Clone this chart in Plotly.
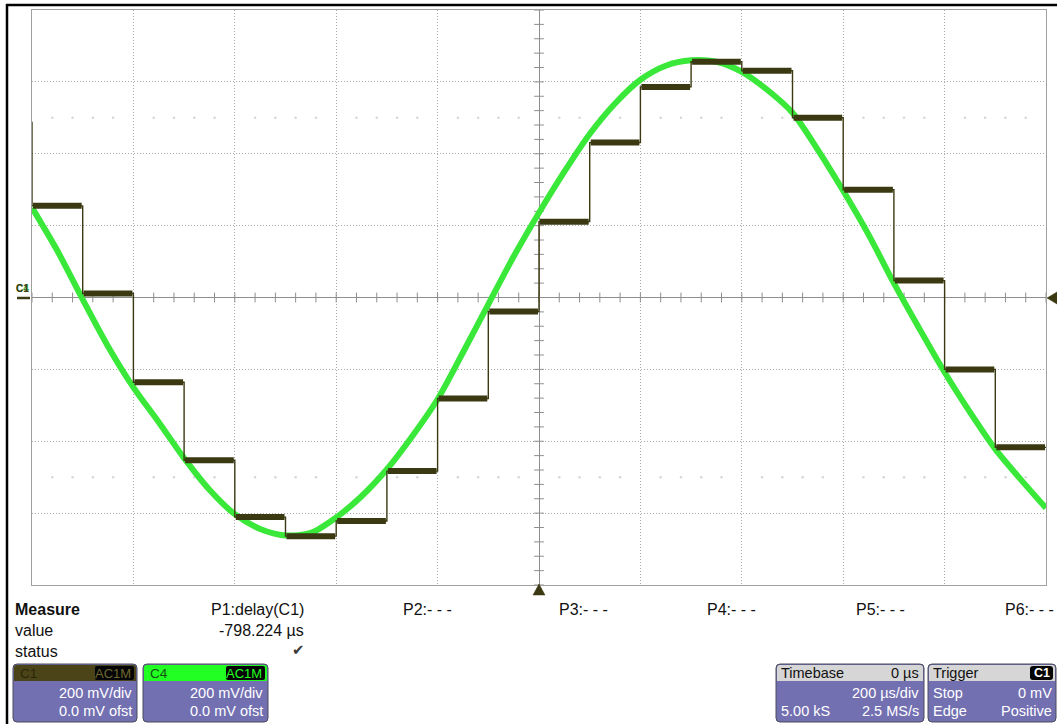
import plotly.graph_objects as go

# C4 (green, analog sine) : time in microseconds, value in millivolts
green_time_us = [-1000, -950, -900, -850, -800, -750, -700, -650, -600, -550,
                 -500, -450, -400, -350, -300, -250, -200, -150, -100, -50,
                 0, 50, 100, 150, 200, 250, 300, 350, 400, 450,
                 500, 550, 600, 650, 700, 750, 800, 850, 900, 950, 1000]
green_mv = [250, 130, -5, -136, -250, -347, -447, -535, -603, -644,
            -662, -655, -612, -553, -478, -386, -283, -153, -19, 114,
            236, 350, 455, 540, 606, 645, 660, 656, 628, 578,
            514, 411, 297, 175, 40, -86, -208, -319, -422, -506, -586]

# C1 (dark, sample & hold staircase)
step_start_us = [-1000, -900, -800, -700, -600, -500, -400, -300, -200, -100,
                 0, 100, 200, 300, 400, 500, 600, 700, 800, 900]
step_mv = [255, 11, -236, -453, -611, -664, -622, -483, -281, -39,
           211, 431, 586, 656, 631, 500, 300, 47, -200, -417]
trace_end_us = 1000
c1_start_spike_mv = 489

# scope settings / labels
time_per_div_us = 200
volt_per_div_mv = 200
n_div_x = 10
n_div_y = 8
measure_labels = ["P1:delay(C1)", "P2:- - -", "P3:- - -", "P4:- - -", "P5:- - -", "P6:- - -"]
measure_value = "-798.224 µs"

# ---------------- styling ----------------
C1_COL = "#3b3912"
C4_COL = "#3ae83a"
GRID_COL = "#a9a9a9"
AXIS_COL = "#8e8e8e"
BADGE_BODY = "#7370b2"
BADGE_EDGE = "#4a4a5a"
FONT = "Liberation Sans, Arial, sans-serif"
MS = 16      # measure-area font size
BS = 14.5    # badge font size

L, R, T, B = 32, 1046, 10, 585
W, H = R - L, B - T


def px(x):
    return (x - L) / W


def py(y):
    return (B - y) / H


x_half = n_div_x * time_per_div_us / 2
y_half = n_div_y * volt_per_div_mv / 2

fig = go.Figure()

# minor ticks on centre axes + faint ghost dots
minor_x = [-x_half + i * time_per_div_us / 5 for i in range(n_div_x * 5 + 1)]
minor_y = [-y_half + i * volt_per_div_mv / 5 for i in range(n_div_y * 5 + 1)]
ghost_x = [v for v in minor_x if abs(v % time_per_div_us) > 1e-6]
fig.add_trace(go.Scatter(x=ghost_x * 2, y=[2.5 * volt_per_div_mv] * len(ghost_x) + [-2.5 * volt_per_div_mv] * len(ghost_x),
                         mode="markers", marker=dict(size=2.5, color="#d6d6d6"), hoverinfo="skip"))
fig.add_trace(go.Scatter(x=minor_x, y=[0] * len(minor_x), mode="markers",
                         marker=dict(symbol="line-ns", size=7, line=dict(width=1, color=AXIS_COL)),
                         hoverinfo="skip"))
fig.add_trace(go.Scatter(x=[0] * len(minor_y), y=minor_y, mode="markers",
                         marker=dict(symbol="line-ew", size=7, line=dict(width=1, color=AXIS_COL)),
                         hoverinfo="skip"))

# C4 green trace
fig.add_trace(go.Scatter(x=green_time_us, y=green_mv, mode="lines",
                         line=dict(color=C4_COL, width=6, shape="spline", smoothing=0.8),
                         hoverinfo="skip"))

# C1 staircase: thin full path
sx, sy = [step_start_us[0], step_start_us[0]], [c1_start_spike_mv, step_mv[0]]
ends = step_start_us[1:] + [trace_end_us]
for t0, t1, v in zip(step_start_us, ends, step_mv):
    sx += [t0, t1]
    sy += [v, v]
fig.add_trace(go.Scatter(x=sx, y=sy, mode="lines", line=dict(color=C1_COL, width=1.4),
                         hoverinfo="skip"))
# thick flats (noise band)
fx, fy = [], []
for t0, t1, v in zip(step_start_us, ends, step_mv):
    fx += [t0 + 2, t1 - 2, None]
    fy += [v, v, None]
fig.add_trace(go.Scatter(x=fx, y=fy, mode="lines", line=dict(color=C1_COL, width=6),
                         hoverinfo="skip"))

fig.update_xaxes(range=[-x_half, x_half], dtick=time_per_div_us, showticklabels=False, ticks="",
                 showgrid=True, gridcolor=GRID_COL, griddash="1px,2px", gridwidth=1,
                 zeroline=True, zerolinecolor=AXIS_COL, zerolinewidth=1,
                 showline=True, linecolor="#a0a0a0", linewidth=1, mirror=True, fixedrange=True)
fig.update_yaxes(range=[-y_half, y_half], dtick=volt_per_div_mv, showticklabels=False, ticks="",
                 showgrid=True, gridcolor=GRID_COL, griddash="1px,2px", gridwidth=1,
                 zeroline=True, zerolinecolor=AXIS_COL, zerolinewidth=1,
                 showline=True, linecolor="#a0a0a0", linewidth=1, mirror=True, fixedrange=True)

shapes = []
annotations = []


def line(x0, y0, x1, y1, color, width):
    shapes.append(dict(type="line", xref="paper", yref="paper", x0=px(x0), y0=py(y0),
                       x1=px(x1), y1=py(y1), line=dict(color=color, width=width)))


def poly(points, color):
    d = "M " + " L ".join(f"{px(a)},{py(b)}" for a, b in points) + " Z"
    shapes.append(dict(type="path", xref="paper", yref="paper", path=d,
                       fillcolor=color, line=dict(color=color, width=0.5)))


def rrect(x0, y0, x1, y1, r, fill, edge=None, ew=0, top_only=False):
    if top_only:
        d = (f"M {px(x0)},{py(y1)} L {px(x0)},{py(y0 + r)} Q {px(x0)},{py(y0)} {px(x0 + r)},{py(y0)} "
             f"L {px(x1 - r)},{py(y0)} Q {px(x1)},{py(y0)} {px(x1)},{py(y0 + r)} L {px(x1)},{py(y1)} Z")
    else:
        d = (f"M {px(x0 + r)},{py(y0)} L {px(x1 - r)},{py(y0)} Q {px(x1)},{py(y0)} {px(x1)},{py(y0 + r)} "
             f"L {px(x1)},{py(y1 - r)} Q {px(x1)},{py(y1)} {px(x1 - r)},{py(y1)} "
             f"L {px(x0 + r)},{py(y1)} Q {px(x0)},{py(y1)} {px(x0)},{py(y1 - r)} "
             f"L {px(x0)},{py(y0 + r)} Q {px(x0)},{py(y0)} {px(x0 + r)},{py(y0)} Z")
    shapes.append(dict(type="path", xref="paper", yref="paper", path=d, fillcolor=fill,
                       line=dict(color=edge if edge else fill, width=ew)))


def text(x, y, s, anchor="left", size=13, color="#111111", bold=False, family=FONT):
    annotations.append(dict(xref="paper", yref="paper", x=px(x), y=py(y), text=f"<b>{s}</b>" if bold else s,
                            showarrow=False, xanchor=anchor, yanchor="middle",
                            font=dict(family=family, size=size, color=color)))


# outer black frame
line(6, 5, 1057, 5, "#000000", 2.5)
line(7, 4, 7, 724, "#000000", 2.5)

# channel marker at left, trigger arrows
line(17, 298, 30, 298, C1_COL, 2.5)
text(14, 288, "C4", size=10, color="#2f9f2f", bold=True)
text(14, 288, "C1", size=10, color=C1_COL, bold=True)
poly([(1047, 298), (1057, 292), (1057, 304)], C1_COL)
poly([(539, 584), (533, 595), (545, 595)], C1_COL)

# measurement table
text(13, 609, "Measure", size=MS, bold=True)
text(13, 630, "value", size=MS)
text(13, 651, "status", size=MS)
meas_x = [306, 401, 557, 705, 854, 1003]
text(meas_x[0], 609, measure_labels[0], anchor="right", size=MS)
for xx, lab in zip(meas_x[1:], measure_labels[1:]):
    text(xx, 609, lab, size=MS)
text(306, 630, measure_value, anchor="right", size=MS)
text(307, 650, "✔", anchor="right", size=15, color="#3a3a3a", family="DejaVu Sans")

# channel badges
for x0, x1, head, cname, ccol, tagcol in [(13, 137, "#4a4418", "C1", "#2a2708", "#6d6730"),
                                         (143, 268, "#22ff22", "C4", "#145214", "#22ff22")]:
    rrect(x0, 664, x1, 722, 4, BADGE_BODY, BADGE_EDGE, 1)
    rrect(x0 + 1, 665, x1 - 1, 681, 3, head, top_only=True)
    rrect(x1 - 42, 666, x1 - 3, 680, 2, "#050505")
    text(x0 + 5, 673, cname, size=13.5, color=ccol)
    text(x1 - 4, 673, "AC1M", anchor="right", size=13, color=tagcol)
    text(x1 - 3, 693, f"{volt_per_div_mv} mV/div", anchor="right", size=BS, color="#ffffff")
    text(x1 - 3, 711, "0.0 mV ofst", anchor="right", size=BS, color="#ffffff")

# timebase badge
rrect(776, 664, 924, 722, 4, BADGE_BODY, BADGE_EDGE, 1)
rrect(777, 665, 923, 681, 3, "#d6d6d6", top_only=True)
text(779, 673, "Timebase", size=BS, color="#111111")
text(921, 673, "0 µs", anchor="right", size=BS, color="#111111")
text(921, 693, f"{time_per_div_us} µs/div", anchor="right", size=BS, color="#ffffff")
text(779, 711, "5.00 kS", size=BS, color="#ffffff")
text(921, 711, "2.5 MS/s", anchor="right", size=BS, color="#ffffff")

# trigger badge
rrect(928, 664, 1056, 722, 4, BADGE_BODY, BADGE_EDGE, 1)
rrect(929, 665, 1055, 681, 3, "#d6d6d6", top_only=True)
text(931, 673, "Trigger", size=BS, color="#111111")
rrect(1030, 666, 1053, 680, 3, "#050505")
text(1041.5, 673, "C1", anchor="center", size=12.5, color="#ffffff", bold=True)
text(931, 693, "Stop", size=BS, color="#ffffff")
text(1054, 693, "0 mV", anchor="right", size=BS, color="#ffffff")
text(931, 711, "Edge", size=BS, color="#ffffff")
text(1054, 711, "Positive", anchor="right", size=BS, color="#ffffff")

fig.update_layout(width=1057, height=724, margin=dict(l=L, r=1057 - R, t=T, b=724 - B),
                  paper_bgcolor="white", plot_bgcolor="white", showlegend=False,
                  shapes=shapes, annotations=annotations)

fig.write_html("out.html", config={"displayModeBar": False},
               post_script="document.body.style.margin='0';document.body.style.overflow='hidden';")
